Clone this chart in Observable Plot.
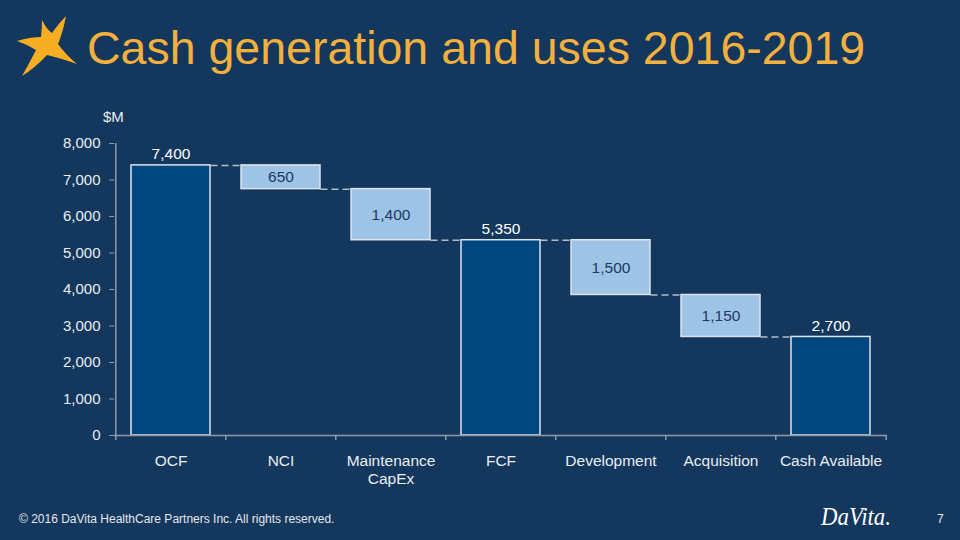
<!DOCTYPE html>
<html>
<head>
<meta charset="utf-8">
<script src="https://cdn.jsdelivr.net/npm/d3@7"></script>
<script src="https://cdn.jsdelivr.net/npm/@observablehq/plot@0.6"></script>
<style>
html, body { margin: 0; padding: 0; background: #13375d; }
#slide { position: relative; width: 960px; height: 540px; overflow: hidden; background: #13375d; font-family: "Liberation Sans", Arial, sans-serif; }
#overlay { position: absolute; left: 0; top: 0; }
#chart { position: absolute; left: 0; top: 100px; }
</style>
</head>
<body>
<div id="slide">
  <svg id="overlay" width="960" height="540" xmlns="http://www.w3.org/2000/svg">
    <path d="M42,20 Q47,30 52,33 Q60,22 66,16 Q63,32 58,44 Q66,55 77,64 Q60,58 47,55 Q35,68 22,76 Q30,62 36,50 Q26,44 17,41 Q30,37 41,37 Q42,28 42,20 Z" fill="#f5ae22"/>
    <text x="87" y="64" font-family="Liberation Sans, Arial, sans-serif" font-size="46.5" fill="#f4b03c">Cash generation and uses 2016-2019</text>
    <text x="103" y="122" font-family="Liberation Sans, Arial, sans-serif" font-size="15" fill="#e8edf2">$M</text>
    <text x="19" y="523" font-family="Liberation Sans, Arial, sans-serif" font-size="12" fill="#e3e8ee">© 2016 DaVita HealthCare Partners Inc. All rights reserved.</text>
    <text x="821" y="525" font-family="Liberation Serif, serif" font-style="italic" font-size="25" fill="#ffffff" textLength="70" lengthAdjust="spacingAndGlyphs">DaVita.</text>
    <text x="937" y="523" font-family="Liberation Sans, Arial, sans-serif" font-size="12" fill="#e3e8ee">7</text>
  </svg>
  <div id="chart"></div>
</div>
<script>
// ---- data ----
const categories = ["OCF", "NCI", "Maintenance\nCapEx", "FCF", "Development", "Acquisition", "Cash Available"];
const values = [7400, -650, -1400, 5350, -1500, -1150, 2700];
const kinds = ["total", "change", "change", "total", "change", "change", "total"];
const valueLabels = ["7,400", "650", "1,400", "5,350", "1,500", "1,150", "2,700"];
const yTicks = [0, 1000, 2000, 3000, 4000, 5000, 6000, 7000, 8000];

// ---- derived waterfall table ----
let running = 0;
const rows = categories.map((c, i) => {
  let lo, hi;
  if (kinds[i] === "total") { lo = 0; hi = values[i]; running = values[i]; }
  else { hi = running; lo = running + values[i]; running = lo; }
  return { cat: c, lo, hi, mid: (lo + hi) / 2, kind: kinds[i], label: valueLabels[i], end: running };
});
const connectors = rows.slice(0, -1).map((r, i) => ({ from: r.cat, to: rows[i + 1].cat, level: r.end }));
const totals = rows.filter(r => r.kind === "total");
const changes = rows.filter(r => r.kind === "change");

// ---- layout ----
const W = 960, H = 400, mL = 114, mR = 73, mT = 43, mB = 65;
const padInner = 0.28;
const step = (W - mL - mR) / categories.length;
const bandwidth = step * (1 - padInner);
const gray = "#8e9bab";
const light = "#e8edf2";

const chart = Plot.plot({
  width: W, height: H,
  marginLeft: mL, marginRight: mR, marginTop: mT, marginBottom: mB,
  style: { background: "transparent", color: light, fontFamily: "Liberation Sans, Arial, sans-serif", fontSize: "15px", overflow: "visible" },
  x: { domain: categories, paddingInner: padInner, paddingOuter: padInner / 2, align: 0.5, axis: null },
  y: { domain: [0, 8000], axis: null },
  marks: [
    Plot.ruleY(connectors, { x1: "from", x2: "to", y: "level", insetLeft: bandwidth, insetRight: bandwidth, stroke: "#b3bcc7", strokeWidth: 1.5, strokeDasharray: "7,4" }),
    Plot.barY(totals, { x: "cat", y1: "lo", y2: "hi", fill: "#00467f", stroke: "#dde4eb", strokeWidth: 1.5 }),
    Plot.barY(changes, { x: "cat", y1: "lo", y2: "hi", fill: "#9dc3e6", stroke: "#dde4eb", strokeWidth: 1.5 }),
    Plot.ruleY([0], { stroke: gray, strokeWidth: 1.5 }),
    Plot.ruleX([categories[0]], { x: d => d, y1: 0, y2: 8000, dx: -step / 2, stroke: gray, strokeWidth: 1.5 }),
    Plot.ruleX(categories, { x: d => d, y1: 0, y2: -137, dx: -step / 2, stroke: gray, strokeWidth: 1.5 }),
    Plot.ruleX([categories[categories.length - 1]], { x: d => d, y1: 0, y2: -137, dx: step / 2, stroke: gray, strokeWidth: 1.5 }),
    Plot.axisY({ ticks: yTicks, tickFormat: d3.format(","), tickSize: 5, tickPadding: 9, stroke: gray, fill: light, label: null, fontSize: 15 }),
    Plot.axisX({ tickSize: 0, tickPadding: 18, fill: light, label: null, fontSize: 15.5, lineHeight: 1.15 }),
    Plot.text(totals, { x: "cat", y: "hi", text: "label", dy: -6, lineAnchor: "bottom", fill: "#ffffff", fontSize: 15.5 }),
    Plot.text(changes, { x: "cat", y: "mid", text: "label", fill: "#1d3a5e", fontSize: 15.5 })
  ]
});
document.getElementById("chart").appendChild(chart);
</script>
</body>
</html>
